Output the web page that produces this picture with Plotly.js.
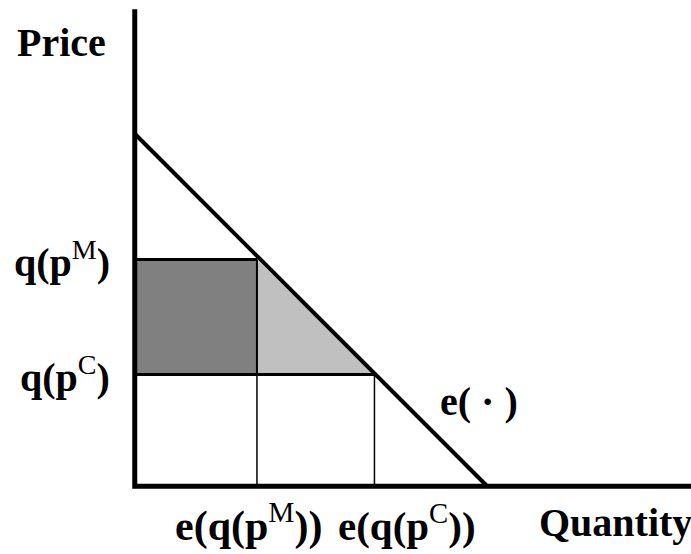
<!DOCTYPE html>
<html>
<head>
<meta charset="utf-8">
<script src="https://cdn.plot.ly/plotly-3.0.1.min.js"></script>
<style>
  html, body { margin: 0; padding: 0; background: #fff; }
  #graph { width: 691px; height: 554px; }
</style>
</head>
<body>
<div id="graph"></div>
<script>
// demand curve e(.) end points
var demandQty = [0, 3];
var demandPrice = [3, 0];

// monopoly and competitive points
var monoQty = 1.04, monoPrice = 1.93;
var compQty = 2.04, compPrice = 0.95;

// axis extents
var axisTop = 4.06;
var axisRight = 4.74;

var xRange = [-0.1, 4.734];
var yRange = [-0.1, 4.138];

var labelFont = { family: 'Liberation Serif, Times New Roman, serif', size: 40, color: '#000', weight: 'bold' };

var traces = [
  // dark rectangle
  {
    x: [0, monoQty, monoQty, 0, 0],
    y: [compPrice, compPrice, monoPrice, monoPrice, compPrice],
    mode: 'lines', fill: 'toself', fillcolor: '#808080',
    line: { width: 0 }, hoverinfo: 'skip'
  },
  // light triangle
  {
    x: [monoQty, monoQty, compQty, monoQty],
    y: [monoPrice, compPrice, compPrice, monoPrice],
    mode: 'lines', fill: 'toself', fillcolor: '#c0c0c0',
    line: { width: 0 }, hoverinfo: 'skip'
  },
  // thin drop lines
  {
    x: [monoQty, monoQty, null, compQty, compQty],
    y: [0, compPrice, null, 0, compPrice],
    mode: 'lines', line: { color: '#000', width: 1.5 }, hoverinfo: 'skip'
  },
  // divider between rect and triangle
  {
    x: [monoQty, monoQty],
    y: [compPrice, monoPrice],
    mode: 'lines', line: { color: '#000', width: 2 }, hoverinfo: 'skip'
  },
  // horizontal price lines
  {
    x: [0, monoQty, null, 0, compQty],
    y: [monoPrice, monoPrice, null, compPrice, compPrice],
    mode: 'lines', line: { color: '#000', width: 3 }, hoverinfo: 'skip'
  },
  // demand line
  {
    x: demandQty, y: demandPrice,
    mode: 'lines', line: { color: '#000', width: 4 }, hoverinfo: 'skip'
  },
  // axes
  {
    x: [0, 0, axisRight],
    y: [axisTop, 0, 0],
    mode: 'lines', line: { color: '#000', width: 5 }, hoverinfo: 'skip'
  }
];

// labels sit outside the axis ranges, so place them in paper units
function label(text, x, y, xanchor, size) {
  var f = Object.assign({}, labelFont);
  if (size) f.size = size;
  return {
    text: text,
    x: (x - xRange[0]) / (xRange[1] - xRange[0]),
    y: (y - yRange[0]) / (yRange[1] - yRange[0]),
    xref: 'paper', yref: 'paper', showarrow: false,
    xanchor: xanchor || 'center', yanchor: 'middle', font: f
  };
}

function sup(s) {
  return '<sup><span style="font-weight:normal">' + s + '</span></sup>';
}

var layout = {
  width: 691, height: 554,
  margin: { l: 123, r: 0, t: 0, b: 56 },
  paper_bgcolor: '#fff', plot_bgcolor: '#fff',
  showlegend: false,
  xaxis: { range: xRange, visible: false, fixedrange: true },
  yaxis: { range: yRange, visible: false, fixedrange: true },
  annotations: [
    label('Price', -0.62, 3.78),
    label('q(p' + sup('M') + ')', -0.19, monoPrice, 'right'),
    label('q(p' + sup('C') + ')', -0.19, compPrice, 'right'),
    label('e(q(p' + sup('M') + '))', 0.97, -0.31, 'center', 42),
    label('e(q(p' + sup('C') + '))', 2.32, -0.31, 'center', 41),
    label('Quantity', 4.09, -0.31),
    label('e( \u00b7 )', 2.93, 0.72)
  ]
};

Plotly.newPlot('graph', traces, layout, { displayModeBar: false, staticPlot: true });
</script>
</body>
</html>
